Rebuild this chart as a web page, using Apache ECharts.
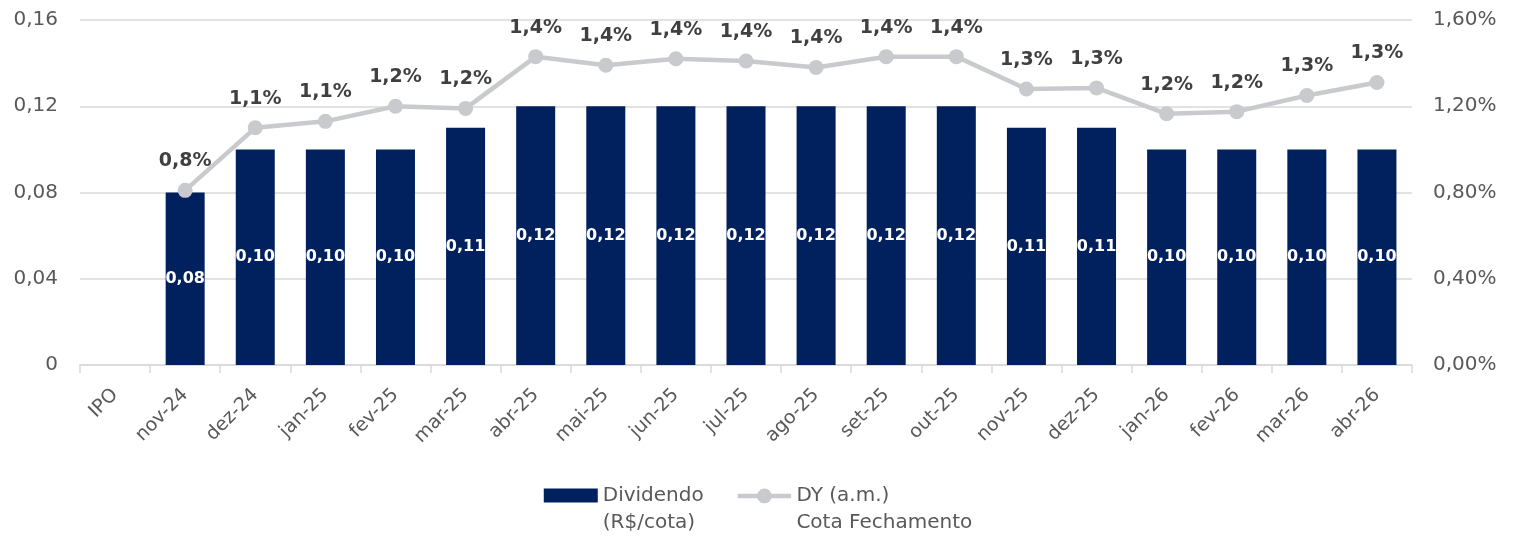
<!DOCTYPE html>
<html>
<head>
<meta charset="utf-8">
<script src="https://cdn.jsdelivr.net/npm/echarts@6/dist/echarts.min.js"></script>
<style>
  html, body { margin: 0; padding: 0; background: #fff; }
  #chart { width: 1516px; height: 536px; }
</style>
</head>
<body>
<div id="chart"></div>
<script>
const categories = ['IPO', 'nov-24', 'dez-24', 'jan-25', 'fev-25', 'mar-25', 'abr-25', 'mai-25', 'jun-25',
  'jul-25', 'ago-25', 'set-25', 'out-25', 'nov-25', 'dez-25', 'jan-26', 'fev-26', 'mar-26', 'abr-26'];
const dividendo = [null, 0.08, 0.10, 0.10, 0.10, 0.11, 0.12, 0.12, 0.12, 0.12, 0.12, 0.12, 0.12, 0.11, 0.11, 0.10, 0.10, 0.10, 0.10];
const dy = [null, 0.81, 1.10, 1.13, 1.20, 1.19, 1.43, 1.39, 1.42, 1.41, 1.38, 1.43, 1.43, 1.28, 1.285, 1.165, 1.175, 1.25, 1.31];

const font = 'DejaVu Sans, Verdana, sans-serif';
const comma = (v, d) => v.toFixed(d).replace('.', ',');

// legend icons drawn in the top part of a taller box so they line up with the first text line
const barIcon = 'path://M0,0H54V14H0Z M0,40.99H0.01V41H0Z';
const lineIcon = 'path://M0,4.75H54V9.25H0Z M19.5,7A7.5,7.5 0 1,1 34.5,7A7.5,7.5 0 1,1 19.5,7Z M0,40.99H0.01V41H0Z';

const chart = echarts.init(document.getElementById('chart'));
chart.setOption({
  animation: false,
  textStyle: { fontFamily: font },
  grid: { left: 80, right: 104, top: 20, bottom: 171 },
  legend: {
    bottom: 0,
    padding: 0,
    left: 'center',
    itemGap: 34,
    itemWidth: 54,
    itemHeight: 41,
    textStyle: { fontSize: 20, color: '#595959', lineHeight: 27, fontFamily: font },
    data: [
      { name: 'Dividendo\n(R$/cota)', icon: barIcon },
      { name: 'DY (a.m.)\nCota Fechamento', icon: lineIcon }
    ]
  },
  xAxis: {
    type: 'category',
    data: categories,
    axisLine: { lineStyle: { color: '#d9d9d9', width: 1.5 } },
    axisTick: { show: true, length: 8, lineStyle: { color: '#d9d9d9', width: 1.5 } },
    axisLabel: { rotate: 45, fontSize: 19, color: '#595959', margin: 27, interval: 0 }
  },
  yAxis: [
    {
      type: 'value', min: 0, max: 0.16, interval: 0.04,
      axisLabel: { fontSize: 20, color: '#595959', margin: 22, formatter: v => v === 0 ? '0' : comma(v, 2) },
      splitLine: { lineStyle: { color: '#d9d9d9', width: 1.5 } }
    },
    {
      type: 'value', min: 0, max: 1.6, interval: 0.4,
      axisLabel: { fontSize: 20, color: '#595959', margin: 21, formatter: v => comma(v, 2) + '%' },
      splitLine: { show: false }
    }
  ],
  series: [
    {
      name: 'Dividendo\n(R$/cota)',
      type: 'bar',
      data: dividendo,
      barWidth: 39,
      itemStyle: { color: '#00205e' },
      label: {
        show: true, position: 'inside', color: '#fff', fontWeight: 'bold', fontSize: 16,
        formatter: p => comma(p.value, 2)
      }
    },
    {
      name: 'DY (a.m.)\nCota Fechamento',
      type: 'line',
      yAxisIndex: 1,
      data: dy,
      symbol: 'circle',
      symbolSize: 15,
      lineStyle: { color: '#c8cacd', width: 4.5 },
      itemStyle: { color: '#c8cacd' },
      label: {
        show: true, position: 'top', distance: 12, color: '#404040', fontWeight: 'bold', fontSize: 19,
        formatter: p => comma(p.value, 1) + '%'
      }
    }
  ]
});
</script>
</body>
</html>
